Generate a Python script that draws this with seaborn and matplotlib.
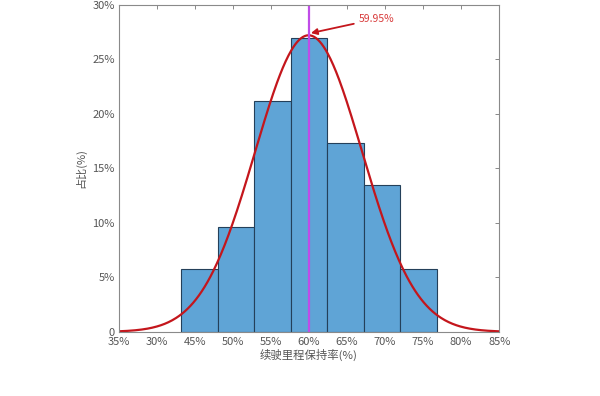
import numpy as np
import pandas as pd
import matplotlib
matplotlib.use("Agg")
import matplotlib.pyplot as plt
import seaborn as sns

# ==============================
# data
# ==============================
bin_edges = [43.2, 48.0, 52.8, 57.6, 62.4, 67.2, 72.0, 76.8]
bin_share = [5.77, 9.62, 21.15, 26.92, 17.31, 13.46, 5.77]   # %
fit_mean = 59.95
fit_std = 7.04
x_ticks = [35, 40, 45, 50, 55, 60, 65, 70, 75, 80, 85]
x_tick_labels = ["35%", "30%", "45%", "50%", "55%", "60%", "65%", "70%", "75%", "80%", "85%"]
y_ticks = [0, 5, 10, 15, 20, 25, 30]
y_tick_labels = ["0", "5%", "10%", "15%", "20%", "25%", "30%"]

sns.set_style("white")
plt.rcParams['font.family'] = ['Noto Sans CJK SC', 'DejaVu Sans']

centers = [(a + b) / 2 for a, b in zip(bin_edges[:-1], bin_edges[1:])]
df = pd.DataFrame({"rate": centers, "share": bin_share})

# fitted normal curve scaled to bin width
bw = bin_edges[1] - bin_edges[0]
xs = np.linspace(35, 85, 400)
curve = pd.DataFrame({
    "rate": xs,
    "share": bw * 100 / (fit_std * np.sqrt(2 * np.pi)) * np.exp(-0.5 * ((xs - fit_mean) / fit_std) ** 2),
})
peak = curve["share"].max()

fig = plt.figure(figsize=(6, 3.96), dpi=100)
ax = fig.add_axes([0.198, 0.162, 0.634, 0.826])

sns.histplot(data=df, x="rate", weights="share", bins=bin_edges, ax=ax,
             color="#5fa4d6", alpha=1.0, edgecolor="#24405a", linewidth=0.8)
sns.lineplot(data=curve, x="rate", y="share", ax=ax, color="#c4161c", linewidth=1.6)
ax.axvline(fit_mean, color="#c04ce8", linewidth=1.6)

ax.annotate("59.95%", xy=(fit_mean + 0.3, peak + 0.2), xytext=(66.5, 28.7),
            color="#d83a3a", fontsize=7.5, va="center", ha="left",
            arrowprops=dict(arrowstyle="-|>", color="#c4161c", lw=1.3, mutation_scale=9,
                            shrinkA=1, shrinkB=0))

ax.set_xlim(35, 85)
ax.set_ylim(0, 30)
ax.set_xticks(x_ticks)
ax.set_xticklabels(x_tick_labels)
ax.set_yticks(y_ticks)
ax.set_yticklabels(y_tick_labels)
ax.tick_params(direction="in", length=3, width=0.7, colors="#888888", labelcolor="#555555",
               labelsize=8, top=True, right=True)
ax.tick_params(axis="x", pad=4)
ax.tick_params(axis="y", pad=3)
for s in ax.spines.values():
    s.set_color("#8a8a8a")
    s.set_linewidth(0.8)

ax.set_xlabel("续驶里程保持率(%)", fontsize=8.2, color="#555555", labelpad=1)
ax.set_ylabel("占比(%)", fontsize=8, color="#555555", labelpad=4)

fig.savefig("out.png", dpi=100)
